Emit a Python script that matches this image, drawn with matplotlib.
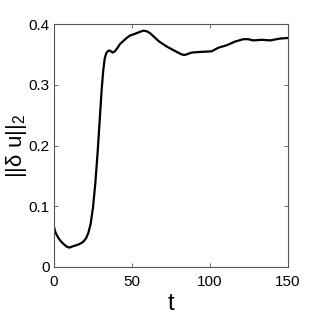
import matplotlib
matplotlib.use("Agg")
import matplotlib.pyplot as plt
from matplotlib import font_manager

t = [0, 0.8, 1.7, 3, 4.5, 6.5, 8.5, 10, 12, 14.5, 16.5, 18.5, 20.5, 22, 23.5, 25, 26.5,
     28, 29.5, 30.5, 31.5, 32.5, 33.5, 34.8, 36, 37.5, 39, 40.5, 42.3, 44.4, 46.6, 48.7,
     51, 53, 55, 57.2, 59.5, 61.5, 64.5, 67.5, 72.2, 76.5, 79.5, 81.8, 83.5, 85, 88.3,
     93.6, 101, 105.4, 110.7, 116, 121.4, 124.5, 127.8, 133.1, 138.5, 144.9, 150]
du = [0.066, 0.058, 0.053, 0.047, 0.042, 0.037, 0.033, 0.032, 0.034, 0.036, 0.038,
      0.041, 0.047, 0.056, 0.071, 0.098, 0.138, 0.19, 0.250, 0.290, 0.322, 0.343, 0.352,
      0.356, 0.356, 0.353, 0.355, 0.360, 0.367, 0.372, 0.377, 0.381, 0.383, 0.385, 0.387,
      0.389, 0.388, 0.385, 0.378, 0.371, 0.363, 0.357, 0.353, 0.350, 0.349, 0.350, 0.353,
      0.354, 0.355, 0.361, 0.365, 0.371, 0.375, 0.375, 0.373, 0.374, 0.373, 0.376, 0.377]
xticks = [0, 50, 100, 150]
yticks = [0, 0.1, 0.2, 0.3, 0.4]
ytick_labels = ["0", "0.1", "0.2", "0.3", "0.4"]

names = {f.name for f in font_manager.fontManager.ttflist}
fam = "Liberation Sans Narrow" if "Liberation Sans Narrow" in names else "Liberation Sans"
plt.rcParams["font.family"] = [fam, "DejaVu Sans"]
plt.rcParams["mathtext.fontset"] = "custom"
plt.rcParams["mathtext.rm"] = fam
plt.rcParams["mathtext.it"] = fam
plt.rcParams["mathtext.bf"] = fam

fig = plt.figure(figsize=(3.19, 3.19), dpi=100)
ax = fig.add_axes([54/319, 1 - 267/319, (288-54)/319, (267-24)/319])
ax.plot(t, du, color="black", lw=1.6, solid_joinstyle="round")
ax.set_xlim(0, 150)
ax.set_ylim(0, 0.4)
ax.set_xticks(xticks)
ax.set_yticks(yticks)
ax.set_yticklabels(ytick_labels)
for s in ax.spines.values():
    s.set_color("#555555")
    s.set_linewidth(0.8)
ax.tick_params(direction="in", length=3, width=0.6, color="#555555", labelsize=11,
               top=True, right=True)
ax.tick_params(axis="x", pad=6)
ax.tick_params(axis="y", pad=3)
ax.set_xlabel("t", fontsize=17, labelpad=3)
ax.set_ylabel("||δ u||$_\\mathrm{2}$", fontsize=16)
ax.yaxis.set_label_coords(-0.105, 0.5)
fig.savefig("out.png", dpi=100)
